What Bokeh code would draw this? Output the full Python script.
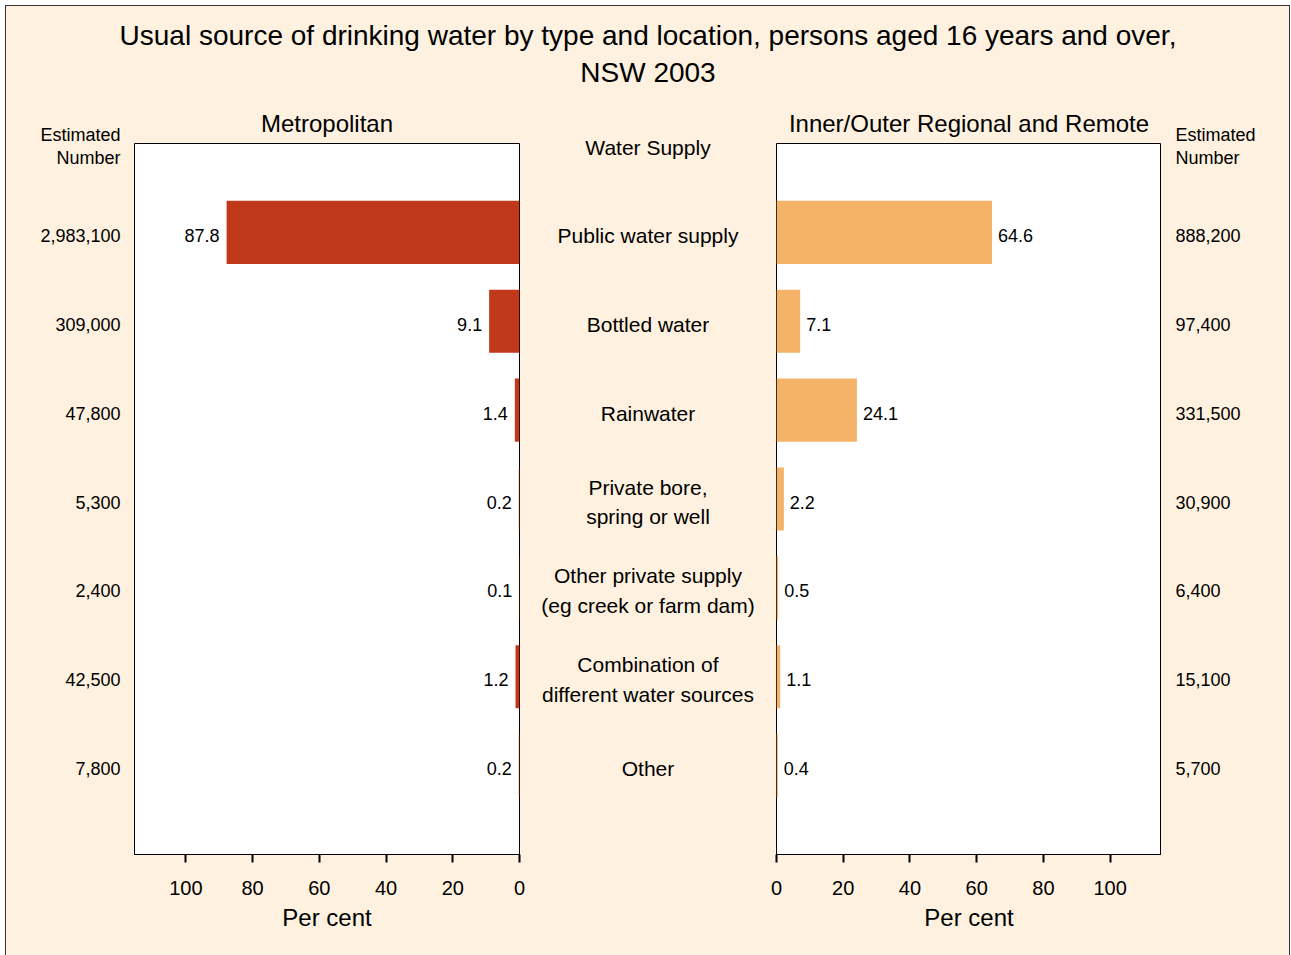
from bokeh.plotting import figure
from bokeh.layouts import row, column
from bokeh.models import Range1d, FixedTicker, ColumnDataSource
from bokeh.core.properties import value
from bokeh.embed import file_html
from bokeh.resources import INLINE

# ---------------- data ----------------
title_lines = ["Usual source of drinking water by type and location, persons aged 16 years and over,",
               "NSW 2003"]
categories = ["Public water supply", "Bottled water", "Rainwater",
              "Private bore,\nspring or well",
              "Other private supply\n(eg creek or farm dam)",
              "Combination of\ndifferent water sources", "Other"]
metro_pct = [87.8, 9.1, 1.4, 0.2, 0.1, 1.2, 0.2]
regional_pct = [64.6, 7.1, 24.1, 2.2, 0.5, 1.1, 0.4]
metro_num = ["2,983,100", "309,000", "47,800", "5,300", "2,400", "42,500", "7,800"]
regional_num = ["888,200", "97,400", "331,500", "30,900", "6,400", "15,100", "5,700"]
pct_ticks = [0, 20, 40, 60, 80, 100]
left_title = "Metropolitan"
right_title = "Inner/Outer Regional and Remote"
mid_header = "Water Supply"
num_header = "Estimated\nNumber"
axis_title = "Per cent"

# ---------------- style ----------------
FONT = "Liberation Sans"
CREAM = "#FEF1DF"
RED = "#C0391A"
ORANGE = "#F4B368"
PCT_MAX = 115.4

n = len(categories)
rows = list(range(n))
TOP, FRAME_H, BOTTOM = 43, 711, 101
H = TOP + FRAME_H + BOTTOM
BAND = FRAME_H / (n + 1)             # pixel height of one row band
yr_plot = Range1d(start=n, end=-1)   # band -1 holds the column headers
yr_side = Range1d(start=n, end=-1 - TOP / BAND)   # same scale, frame reaching the top
PAD = 10                              # extra canvas so edge tick labels are not pushed


def blank(width, x_range):
    p = figure(width=width, height=H, x_range=x_range, y_range=yr_side,
               x_axis_location=None, y_axis_location=None,
               output_backend="svg", toolbar_location=None,
               min_border_top=0, min_border_bottom=BOTTOM,
               min_border_left=0, min_border_right=0, frame_align=False)
    p.background_fill_color = CREAM
    p.border_fill_color = CREAM
    p.outline_line_color = None
    p.grid.visible = False
    return p


def bar_panel(title, pct, color, x_range, align, offset, pad_left, pad_right):
    p = figure(width=385 + pad_left + pad_right, height=H, x_range=x_range, y_range=yr_plot,
               y_axis_location=None, title=title,
               output_backend="svg", toolbar_location=None,
               min_border_top=TOP, min_border_bottom=BOTTOM,
               min_border_left=pad_left, min_border_right=pad_right, frame_align=False)
    p.title.align = "center"
    p.title.text_font = FONT
    p.title.text_font_size = "24px"
    p.title.text_font_style = "normal"
    p.title.text_color = "black"
    p.title.standoff = 13
    p.background_fill_color = "white"
    p.border_fill_color = CREAM
    p.outline_line_color = "black"
    p.outline_line_width = 1
    p.grid.visible = False
    src = ColumnDataSource(dict(y=rows, pct=pct, lab=[f"{v:.1f}" for v in pct]))
    p.hbar(y="y", left=0, right="pct", height=0.71, fill_color=color,
           line_color=None, source=src)
    p.text(x="pct", y="y", text="lab", x_offset=offset, y_offset=3,
           text_align=align, text_baseline="middle",
           text_font=value(FONT), text_font_size="18px", text_color="black",
           source=src)
    ax = p.xaxis[0]
    ax.ticker = FixedTicker(ticks=pct_ticks)
    ax.axis_label = axis_title
    ax.axis_label_text_font = FONT
    ax.axis_label_text_font_size = "24px"
    ax.axis_label_text_font_style = "normal"
    ax.axis_label_text_color = "black"
    ax.axis_label_standoff = 6
    ax.major_label_text_font = FONT
    ax.major_label_text_font_size = "20px"
    ax.major_label_text_color = "black"
    ax.major_label_standoff = 18
    ax.major_tick_in = 0
    ax.major_tick_out = 8
    ax.major_tick_line_width = 2
    ax.major_tick_line_color = "black"
    ax.minor_tick_line_color = None
    ax.axis_line_color = "black"
    return p


# title strip
pt = figure(width=1283, height=94, x_range=Range1d(0, 1), y_range=Range1d(94, 0),
            x_axis_location=None, y_axis_location=None,
            output_backend="svg", toolbar_location=None, min_border=0, frame_align=False)
pt.background_fill_color = CREAM
pt.border_fill_color = CREAM
pt.outline_line_color = None
pt.grid.visible = False
pt.text(x=[0.5, 0.5], y=[29, 66], text=title_lines, text_align="center",
        text_baseline="middle", text_font=value(FONT), text_font_size="28px",
        text_color="black")

# left numbers
pl = blank(128, Range1d(0, 1))
pl.text(x=1, y=rows, text=metro_num, x_offset=-14, y_offset=3, text_align="right",
        text_baseline="middle", text_font=value(FONT), text_font_size="18px",
        text_color="black")
pl.text(x=[1], y=[-1], text=[num_header], x_offset=-14, y_offset=3, text_align="right",
        text_baseline="middle", text_font=value(FONT), text_font_size="18px",
        text_line_height=1.16, text_color="black")

# left bars
pm = bar_panel(left_title, metro_pct, RED, Range1d(PCT_MAX, 0), "right", -7, 0, PAD)

# middle category labels
pc = blank(257 - 2 * PAD, Range1d(0, 1))
pc.text(x=0.5, y=rows, text=categories, y_offset=3, text_align="center",
        text_baseline="middle", text_font=value(FONT), text_font_size="21px",
        text_line_height=1.3, text_color="black")
pc.text(x=[0.5], y=[-1], text=[mid_header], y_offset=4, text_align="center",
        text_baseline="middle", text_font=value(FONT), text_font_size="21px",
        text_color="black")

# right bars
pr = bar_panel(right_title, regional_pct, ORANGE, Range1d(0, PCT_MAX), "left", 6, PAD, 0)

# right numbers
pn = blank(128, Range1d(0, 1))
pn.text(x=0, y=rows, text=regional_num, x_offset=14, y_offset=3, text_align="left",
        text_baseline="middle", text_font=value(FONT), text_font_size="18px",
        text_color="black")
pn.text(x=[0], y=[-1], text=[num_header], x_offset=14, y_offset=3, text_align="left",
        text_baseline="middle", text_font=value(FONT), text_font_size="18px",
        text_line_height=1.16, text_color="black")

layout = column(pt, row(pl, pm, pc, pr, pn),
                styles={"margin-left": "5px", "margin-top": "5px",
                        "border": "1px solid #333333",
                        "background-color": CREAM})

open("out.html", "w").write(file_html(layout, INLINE))
